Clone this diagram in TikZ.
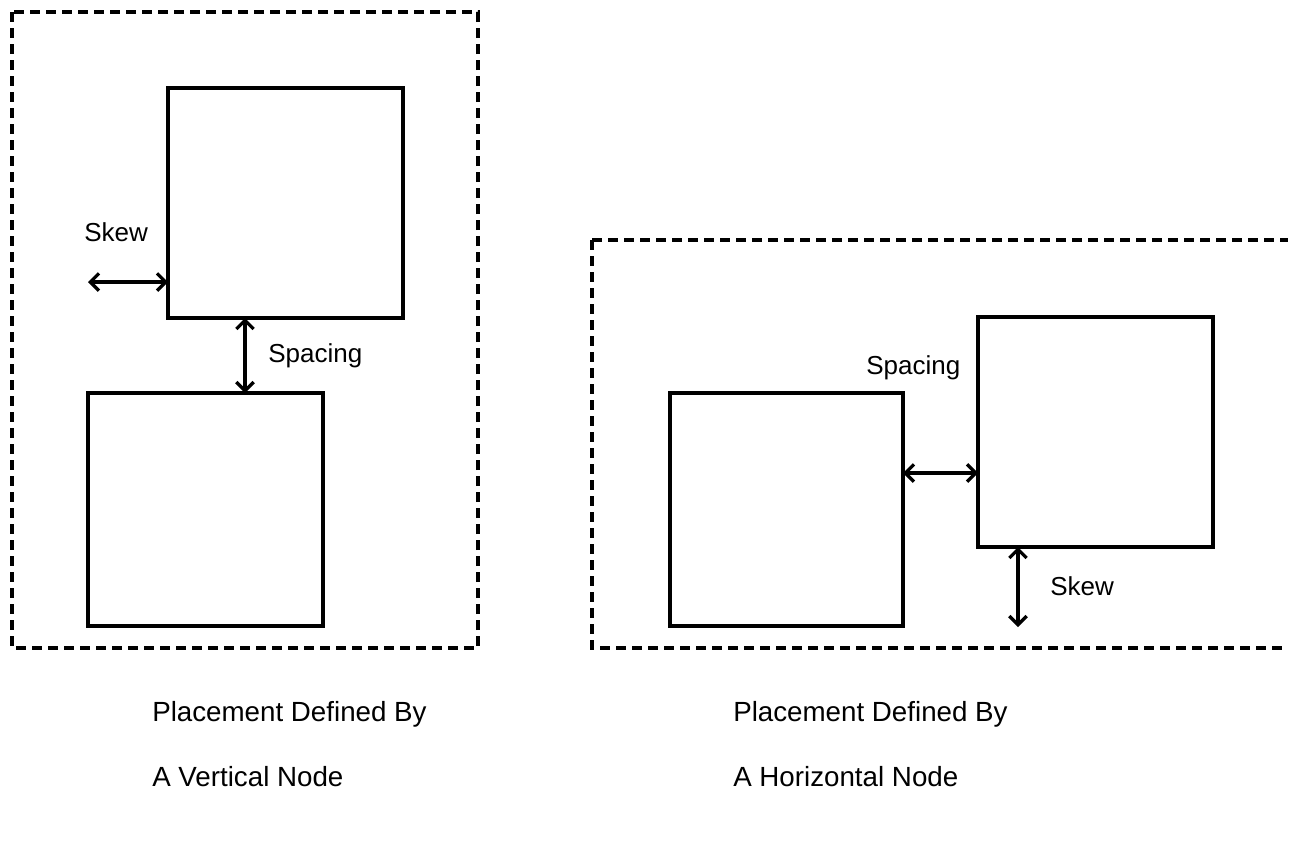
\documentclass[tikz,border=0pt]{standalone}
\usepackage{fontspec}
\setmainfont{Liberation Sans}
\usetikzlibrary{arrows.meta}
\begin{document}
\begin{tikzpicture}[x=0.75pt, y=-0.75pt,
  frame/.style={draw, line width=2.5pt, dash pattern=on 7.5pt off 4.5pt},
  block/.style={draw, line width=2.4pt},
  dim/.style={line width=2.6pt, {Straight Barb[length=6.5pt,width=13pt,line width=2.4pt]}-{Straight Barb[length=6.5pt,width=13pt,line width=2.4pt]}},
  lbl/.style={font=\fontsize{19.5pt}{22pt}\selectfont, inner sep=0pt, anchor=west},
  caption/.style={font=\fontsize{20.8pt}{24pt}\selectfont, inner sep=0pt, anchor=west}]
\useasboundingbox (0,0) rectangle (1289,840);

% vertical placement
\draw[frame] (12,12) rectangle (478,648);
\draw[block] (168,88) rectangle (403,318);
\draw[block] (88,393) rectangle (323,626);
\coordinate (vA) at (168,282);
\coordinate (vB) at (88,282);
\draw[dim] (vB) -- (vA);
\node[lbl] (vskew) at (84,232) {Skew};
\coordinate (vs1) at (245,318);
\coordinate (vs2) at (245,393);
\draw[dim] (vs1) -- (vs2);
\node[lbl] (vspacing) at (268,356) {Spacing};

% horizontal placement
\draw[frame] (592,240) -- (1288,240) (592,240) -- (592,648) -- (1288,648);
\draw[block] (670,393) rectangle (903,626);
\draw[block] (978,317) rectangle (1213,547);
\coordinate (hs1) at (903,473);
\coordinate (hs2) at (978,473);
\draw[dim] (hs1) -- (hs2);
\node[lbl] (hspacing) at (866,368) {Spacing};
\coordinate (hk1) at (1018,547);
\coordinate (hk2) at (1018,627);
\draw[dim] (hk1) -- (hk2);
\node[lbl] (hskew) at (1050,586) {Skew};

% captions
\node[caption] (c1) at (152,714) {Placement Defined By};
\node[caption] (c2) at (152,777) {A Vertical Node};
\node[caption] (c3) at (733,714) {Placement Defined By};
\node[caption] (c4) at (733,777) {A Horizontal Node};
\end{tikzpicture}
\end{document}
